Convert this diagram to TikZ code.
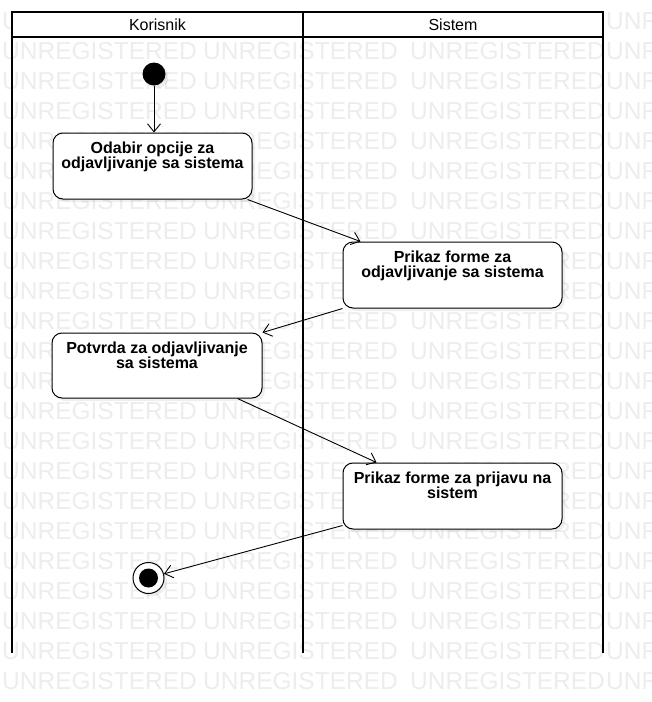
\documentclass[tikz,border=0pt]{standalone}
\usepackage{fontspec}
\setmainfont{Liberation Sans}
\usetikzlibrary{arrows.meta,shadows,positioning,calc}
\tikzset{
  lane/.style={line width=2.4pt, line cap=rect},
  actbox/.style={draw, line width=1pt, rounded corners=10pt, fill=white, inner sep=0pt,
    drop shadow={opacity=0.12, shadow xshift=3pt, shadow yshift=-3pt}},
  acttext/.style={font=\fontsize{16}{15.5}\selectfont\bfseries, align=center, inner sep=0pt, anchor=north},
  flow/.style={draw, line width=0.9pt, -{Straight Barb[length=8pt,width=13pt,line width=0.9pt]}},
  wmark/.style={font=\fontsize{24.5}{24.5}\selectfont, text=black!7, inner sep=0pt, anchor=base west},
  lanetitle/.style={font=\fontsize{16}{16}\selectfont, inner sep=0pt, anchor=base},
}
\begin{document}
\begin{tikzpicture}[x=1pt,y=-1pt]
\useasboundingbox (0,0) rectangle (652,702);
\fill[white] (0,0) rectangle (652,702);
% watermark
\begin{scope}
\clip (0,0) rectangle (652,702);
\foreach \k in {0,...,22}{
  \foreach \xx in {2,203,410,606}{
    \node[wmark] at (\xx,29+30*\k) {UNREGISTERED};
  }
}
\end{scope}
% swimlanes
\draw[lane, fill=white] (12,12) rectangle (603,37);
\draw[lane] (12,37) -- (12,652);
\draw[lane] (303,12) -- (303,652);
\draw[lane] (603,37) -- (603,652);
\node[lanetitle] (h1) at (157.5,30) {Korisnik};
\node[lanetitle] (h2) at (453,30) {Sistem};
% start
\node[circle, fill=black, minimum size=23pt, inner sep=0pt,
  drop shadow={opacity=0.12, shadow xshift=3pt, shadow yshift=-3pt}] (s) at (154,74) {};
% activities
\node[actbox, minimum width=199pt, minimum height=66pt] (b1) at (152.5,166) {};
\node[acttext, below=9pt of b1.north] (t1) {Odabir opcije za\\odjavljivanje sa sistema};
\node[actbox, minimum width=219pt, minimum height=66pt] (b2) at (452.5,275) {};
\node[acttext, below=9pt of b2.north] (t2) {Prikaz forme za\\odjavljivanje sa sistema};
\node[actbox, minimum width=210pt, minimum height=65pt] (b3) at (157,365.5) {};
\node[acttext, below=9pt of b3.north] (t3) {Potvrda za odjavljivanje\\sa sistema};
\node[actbox, minimum width=219pt, minimum height=66pt] (b4) at (452.5,496) {};
\node[acttext, below=9pt of b4.north] (t4) {Prikaz forme za prijavu na\\sistem};
% end
\node[circle, draw, line width=1pt, fill=white, minimum size=31pt, inner sep=0pt,
  drop shadow={opacity=0.12, shadow xshift=3pt, shadow yshift=-3pt}] (e) at (148.5,578) {};
\node[circle, fill=black, minimum size=19pt, inner sep=0pt] (ei) at (e.center) {};
% flows
\draw[flow] (s) -- (s |- b1.north);
\draw[flow] ($(b1.south east)+(-5,0)$) -- ($(b2.north west)+(18,0)$);
\draw[flow] (b2.south west) -- (b3.north east);
\draw[flow] ($(b3.south east)+(-25,0)$) -- ($(b4.north west)+(34,0)$);
\draw[flow] ($(b4.south west)+(0,-4)$) -- (e);
\end{tikzpicture}
\end{document}
